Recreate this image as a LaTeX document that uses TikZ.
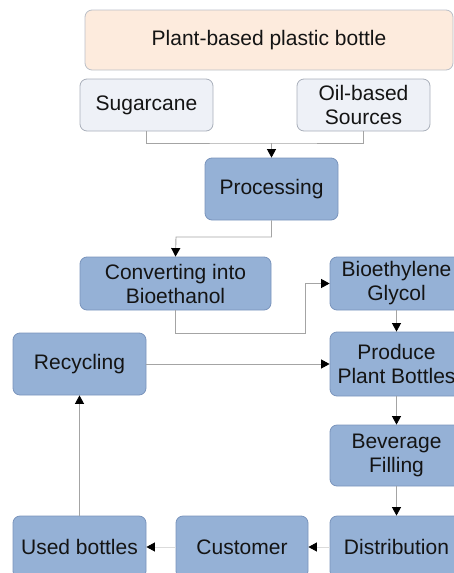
\documentclass[tikz,border=0pt]{standalone}
\usepackage{fontspec}
\setmainfont{Liberation Sans}
\usetikzlibrary{arrows.meta}
\definecolor{bluefill}{HTML}{95B1D6}
\definecolor{blueedge}{HTML}{7A94BC}
\definecolor{peach}{HTML}{FDEBDD}
\definecolor{pale}{HTML}{EEF1F7}
\definecolor{paleedge}{HTML}{A9AFBA}
\definecolor{linegray}{HTML}{A4A4A4}
\tikzset{
  box/.style={rectangle, rounded corners=7pt, draw=blueedge, fill=bluefill, line width=0.8pt,
    minimum width=133pt, minimum height=62pt, inner sep=0pt, align=center,
    font=\fontsize{21}{24}\selectfont, text=black!92},
  srcbox/.style={box, draw=paleedge, fill=pale, minimum height=52pt},
  titlebox/.style={box, draw=paleedge!80, fill=peach, minimum width=368pt, minimum height=60pt},
  conn/.style={draw=linegray, line width=0.9pt},
  arr/.style={conn, -{Triangle[length=8.5pt,width=9pt,fill=black,color=black]}}
}
\begin{document}
\begin{tikzpicture}[x=1pt,y=-1pt]
\useasboundingbox (0,0) rectangle (454,573);
\clip (0,0) rectangle (454,573);
\node[titlebox] (title) at (269,40) {Plant-based plastic bottle};
\node[srcbox] (sugar) at (146.5,105) {Sugarcane};
\node[srcbox] (oil) at (363.5,105) {Oil-based\\Sources};
\node[box] (proc) at (271.5,189) {Processing};
\node[box, minimum width=191pt, minimum height=53pt] (conv) at (175.5,283.5) {Converting into\\Bioethanol};
\node[box, minimum height=53pt] (bio) at (396.5,283.5) {Bioethylene\\Glycol};
\node[box] (recy) at (79.5,364) {Recycling};
\node[box, minimum height=64pt] (prod) at (396.5,364) {Produce\\Plant Bottles};
\node[box, minimum height=61pt] (bev) at (396.5,455.5) {Beverage\\Filling};
\node[box] (dist) at (396.5,547) {Distribution};
\node[box, minimum width=132pt] (cust) at (242,547) {Customer};
\node[box] (used) at (79.5,547) {Used bottles};
\coordinate (j1) at (271.5,143);
\draw[conn] (sugar.south) |- (j1) -| (oil.south);
\draw[arr] (j1) -- (proc.north);
\draw[arr] (proc.south) |- (176,237) -- (conv.north);
\coordinate (k1) at (305,333);
\draw[arr] (conv.south) |- (k1) |- (bio.west);
\draw[arr] (bio.south) -- (prod.north);
\draw[arr] (recy.east) -- (prod.west);
\draw[arr] (prod.south) -- (bev.north);
\draw[arr] (bev.south) -- (dist.north);
\draw[arr, draw=linegray!40] (dist.west) -- (cust.east);
\draw[arr, draw=linegray!40] (cust.west) -- (used.east);
\draw[arr] (used.north) -- (recy.south);
\end{tikzpicture}
\end{document}
